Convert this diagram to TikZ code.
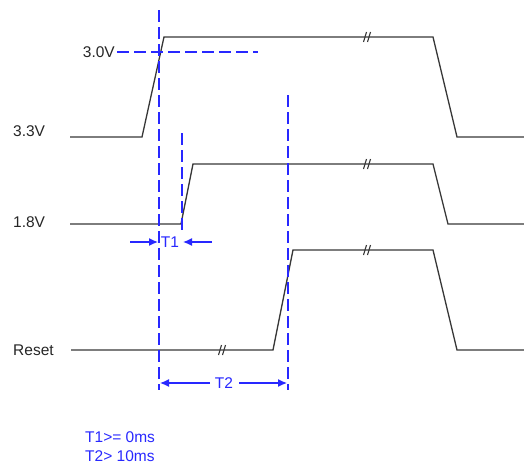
\documentclass[tikz,border=0pt]{standalone}
\usepackage{fontspec}
\setmainfont{Liberation Sans}
\usetikzlibrary{arrows.meta}
\definecolor{tblue}{RGB}{40,40,255}
\definecolor{wave}{RGB}{55,55,55}
\begin{document}
\begin{tikzpicture}[x=1pt,y=-1pt,
  sig/.style={draw=wave,line width=1.3pt,line join=miter},
  guide/.style={draw=tblue,line width=1.8pt,dash pattern=on 12pt off 5pt},
  dim/.style={draw=tblue,line width=1.3pt,-{Latex[length=9pt,width=8pt]}},
  lbl/.style={font=\fontsize{15.5}{17}\selectfont,inner sep=0pt,text=black!85},
  blbl/.style={font=\fontsize{15.5}{17}\selectfont,inner sep=0pt,text=tblue},
  brk/.style={draw=wave,line width=1.1pt}]
\useasboundingbox (0,0) rectangle (524,466);
% 3.3V waveform
\coordinate (a0) at (70,137); \coordinate (a1) at (142,137); \coordinate (a2) at (164,37);
\coordinate (a3) at (433,37); \coordinate (a4) at (457,137); \coordinate (a5) at (524,137);
\draw[sig] (a0) -- (a1) -- (a2) -- (a3) -- (a4) -- (a5);
% 1.8V waveform
\coordinate (b0) at (70,224); \coordinate (b1) at (181,224); \coordinate (b2) at (193,164);
\coordinate (b3) at (433,164); \coordinate (b4) at (448,224); \coordinate (b5) at (524,224);
\draw[sig] (b0) -- (b1) -- (b2) -- (b3) -- (b4) -- (b5);
% Reset waveform
\coordinate (c0) at (71,350); \coordinate (c1) at (273,350); \coordinate (c2) at (293,250);
\coordinate (c3) at (433,250); \coordinate (c4) at (457,350); \coordinate (c5) at (524,350);
\draw[sig] (c0) -- (c1) -- (c2) -- (c3) -- (c4) -- (c5);
% break marks
\foreach \px/\py in {367/37,367/164,367/250,222/350}{
  \begin{scope}[shift={(\px,\py)}]
    \draw[brk] (-3.5,5) -- (-0.5,-5);
    \draw[brk] (0.5,5) -- (3.5,-5);
  \end{scope}}
% labels
\node[lbl,anchor=west] (l33) at (13,131) {3.3V};
\node[lbl,anchor=west] (l18) at (13,222) {1.8V};
\node[lbl,anchor=west] (lrs) at (13,350) {Reset};
\node[lbl,anchor=east] (l30) at (115,52) {3.0V};
% guides
\coordinate (g1t) at (159,10); \coordinate (g1b) at (159,390);
\coordinate (g2t) at (182,133); \coordinate (g2b) at (182,230);
\coordinate (g3t) at (288,95); \coordinate (g3b) at (288,390);
\coordinate (h1s) at (117,52); \coordinate (h1e) at (258,52);
\draw[guide] (g1t) -- (g1b);
\draw[guide] (g2t) -- (g2b);
\draw[guide] (g3t) -- (g3b);
\draw[guide] (h1s) -- (h1e);
% T1
\node[blbl] (t1) at (170,242) {T1};
\coordinate (t1l) at (130,242); \coordinate (t1la) at (158,242);
\coordinate (t1r) at (212,242); \coordinate (t1ra) at (183,242);
\draw[dim] (t1l) -- (t1la);
\draw[dim] (t1r) -- (t1ra);
% T2
\node[blbl] (t2) at (224,383) {T2};
\coordinate (t2l) at (210,383); \coordinate (t2la) at (160,383);
\coordinate (t2r) at (239,383); \coordinate (t2ra) at (287,383);
\draw[dim] (t2l) -- (t2la);
\draw[dim] (t2r) -- (t2ra);
% notes
\node[blbl,anchor=west] (n1) at (85,437) {T1>= 0ms};
\node[blbl,anchor=west] (n2) at (85,456) {T2> 10ms};
\end{tikzpicture}
\end{document}
